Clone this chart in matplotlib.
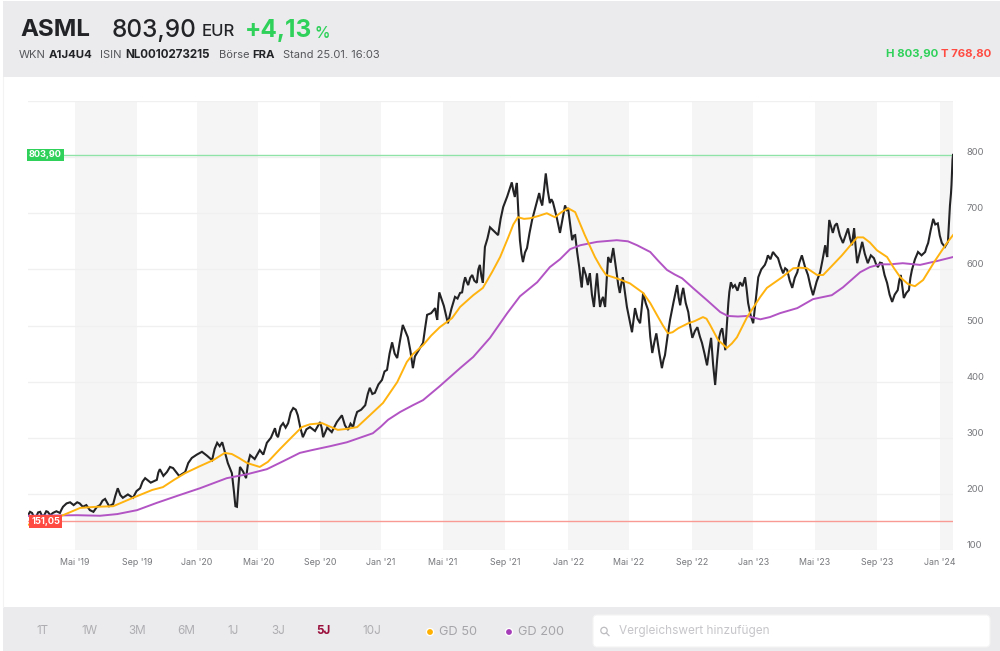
import numpy as np
import matplotlib
matplotlib.use('Agg')
import matplotlib.pyplot as plt
from matplotlib.patches import Rectangle, FancyBboxPatch, Circle

plt.rcParams['font.family'] = ['Inter', 'DejaVu Sans']

# (position along the time axis in days from the left edge, price in EUR)
price_points = [(0,162),(4,168),(8,166),(12,158),(16,159),(20,167),(24,168),(28,160),(32,162),(36,169),(39,168),(44,162),(49,166),(56,169),(63,166),(66,172),(69,177),(76,183),(83,185),(90,180),(97,185),(102,183),(108,177),(115,180),(122,171),(129,168),(136,177),(142,180),(147,188),(152,191),(160,178),(168,182),(172,196),(177,210),(182,198),(187,193),(197,199),(207,193),(214,205),(221,210),(226,222),(231,228),(242,220),(254,225),(257,238),(260,244),(267,232),(274,239),(280,248),(286,246),(298,232),(310,239),(316,255),(323,264),(333,270),(343,275),(353,268),(363,260),(368,280),(373,291),(378,285),(383,292),(389,272),(394,255),(398,246),(402,237),(406,205),(409,178),(412,177),(415,215),(418,248),(424,240),(430,228),(434,255),(438,269),(447,262),(457,278),(464,270),(471,291),(479,300),(487,317),(490,305),(493,301),(498,320),(503,326),(508,318),(513,326),(518,345),(523,353),(528,350),(532,340),(537,318),(542,301),(549,315),(556,319),(566,312),(576,328),(579,318),(582,301),(590,318),(599,310),(609,328),(619,340),(625,322),(631,314),(636,325),(641,319),(645,335),(649,346),(657,350),(665,358),(670,378),(674,389),(679,378),(684,380),(691,395),(698,403),(703,418),(708,421),(713,450),(718,470),(723,450),(728,442),(733,470),(739,501),(744,490),(749,479),(754,455),(759,424),(763,445),(767,451),(773,460),(779,469),(783,495),(787,519),(795,522),(803,531),(805,518),(807,510),(809,540),(811,559),(820,535),(828,504),(835,530),(842,551),(847,548),(852,558),(856,559),(859,575),(862,586),(865,578),(868,572),(872,585),(876,590),(880,580),(885,576),(888,600),(891,608),(894,588),(897,576),(899,610),(901,640),(906,655),(911,675),(919,668),(927,661),(932,690),(937,711),(945,730),(954,755),(957,740),(960,729),(962,745),(964,754),(967,700),(970,652),(973,628),(976,613),(980,630),(984,638),(989,665),(994,688),(1001,712),(1008,736),(1011,722),(1014,714),(1018,745),(1021,771),(1025,740),(1029,718),(1032,725),(1035,720),(1042,695),(1049,665),(1054,690),(1059,714),(1062,706),(1065,709),(1069,680),(1073,652),(1076,660),(1079,661),(1083,630),(1087,604),(1090,580),(1092,568),(1095,604),(1100,590),(1104,572),(1106,585),(1108,593),(1112,555),(1116,533),(1119,565),(1122,593),(1125,560),(1128,533),(1131,545),(1134,551),(1136,540),(1138,533),(1141,580),(1144,622),(1149,612),(1154,638),(1158,612),(1161,593),(1164,572),(1167,558),(1170,575),(1173,586),(1177,560),(1181,533),(1186,510),(1191,488),(1194,510),(1197,531),(1202,512),(1207,504),(1210,530),(1213,558),(1218,540),(1223,527),(1227,480),(1231,451),(1235,470),(1239,486),(1245,450),(1250,424),(1253,438),(1256,447),(1261,480),(1266,510),(1273,542),(1280,572),(1283,550),(1286,536),(1289,555),(1292,567),(1297,540),(1302,524),(1306,498),(1310,478),(1315,490),(1320,497),(1325,480),(1329,469),(1334,450),(1339,429),(1343,455),(1347,478),(1351,430),(1355,394),(1359,440),(1363,479),(1366,490),(1369,495),(1372,475),(1375,456),(1378,500),(1381,540),(1383,560),(1386,577),(1390,568),(1394,572),(1399,562),(1404,577),(1409,570),(1414,586),(1417,565),(1420,540),(1425,518),(1430,504),(1435,545),(1440,586),(1446,600),(1453,608),(1456,615),(1459,625),(1464,618),(1469,631),(1474,625),(1479,620),(1484,605),(1489,593),(1493,602),(1497,599),(1502,580),(1507,567),(1512,585),(1517,595),(1521,612),(1526,625),(1532,605),(1538,590),(1543,570),(1548,554),(1555,578),(1562,595),(1567,618),(1572,643),(1574,630),(1576,622),(1578,660),(1580,688),(1584,675),(1587,665),(1591,678),(1595,682),(1601,660),(1607,647),(1612,660),(1617,673),(1621,655),(1625,643),(1627,660),(1629,673),(1632,640),(1635,611),(1640,630),(1645,649),(1650,628),(1656,611),(1662,625),(1668,620),(1672,610),(1676,604),(1680,612),(1684,611),(1689,590),(1694,576),(1699,555),(1704,542),(1709,555),(1715,563),(1718,580),(1721,590),(1724,570),(1727,549),(1732,558),(1737,563),(1740,585),(1743,599),(1749,618),(1755,631),(1762,625),(1769,631),(1772,640),(1775,647),(1780,670),(1785,690),(1789,680),(1794,682),(1798,660),(1802,647),(1808,640),(1814,649),(1816,680),(1818,714),(1820,735),(1821,750),(1823,795),(1824,804)]

gd50_points = [(0,145),(35,152),(69,162),(103,175),(135,177),(168,178),(207,193),(245,207),(266,212),(288,225),(310,237),(338,249),(365,260),(388,273),(402,271),(416,264),(432,255),(457,248),(473,257),(497,280),(520,301),(540,319),(556,324),(580,326),(595,320),(611,314),(630,316),(649,319),(674,340),(700,362),(728,399),(747,435),(759,449),(779,465),(795,482),(812,497),(836,513),(852,533),(878,554),(897,567),(915,595),(931,622),(947,657),(957,680),(966,693),(978,690),(990,691),(1006,695),(1023,700),(1039,693),(1052,702),(1065,709),(1079,702),(1098,661),(1118,622),(1130,603),(1140,590),(1161,584),(1187,575),(1213,558),(1227,540),(1240,519),(1252,500),(1262,486),(1271,488),(1282,495),(1302,504),(1315,508),(1331,515),(1338,512),(1345,501),(1361,474),(1378,460),(1388,468),(1398,479),(1418,515),(1444,551),(1457,567),(1487,586),(1509,602),(1522,603),(1536,602),(1556,590),(1568,590),(1585,606),(1605,625),(1635,657),(1647,657),(1660,648),(1674,634),(1694,622),(1707,603),(1720,586),(1735,574),(1749,570),(1765,581),(1789,616),(1812,647),(1824,661)]

gd200_points = [(0,161),(97,162),(142,161),(176,164),(215,171),(254,184),(296,197),(339,210),(392,228),(432,235),(471,244),(505,259),(536,273),(560,278),(596,285),(629,292),(680,308),(696,320),(710,332),(734,346),(759,358),(779,367),(812,392),(852,424),(878,444),(911,478),(945,522),(970,552),(1004,577),(1029,604),(1049,618),(1069,636),(1089,643),(1122,649),(1161,652),(1183,650),(1201,643),(1227,631),(1243,615),(1260,599),(1275,591),(1290,584),(1311,567),(1339,545),(1365,524),(1380,517),(1400,516),(1418,517),(1444,511),(1463,515),(1483,522),(1517,531),(1548,547),(1585,554),(1607,568),(1641,595),(1660,604),(1680,609),(1700,609),(1725,611),(1759,608),(1793,615),(1824,622)]

price_day, price_val = map(list, zip(*price_points))
gd50_day, gd50_val = map(list, zip(*gd50_points))
gd200_day, gd200_val = map(list, zip(*gd200_points))

axis_days = 1824
y_ticks = [100, 200, 300, 400, 500, 600, 700, 800, 900]
y_labels = ['100', '200', '300', '400', '500', '600', '700', '800', '']
x_tick_days = [93, 215, 333, 454, 576, 696, 818, 941, 1065, 1185, 1309, 1430, 1552, 1674, 1798]
x_labels = ["Mai '19","Sep '19","Jan '20","Mai '20","Sep '20","Jan '21","Mai '21","Sep '21","Jan '22","Mai '22","Sep '22","Jan '23","Mai '23","Sep '23","Jan '24"]
high_value = 803.90
low_value = 151.05
periods = ['1T', '1W', '3M', '6M', '1J', '3J', '5J', '10J']
period_x = [42, 89, 137, 186, 233, 278, 323, 372]

W, H = 1000, 651
fig = plt.figure(figsize=(W/100, H/100), dpi=100, facecolor='white')

# page chrome in pixel coordinates
bg = fig.add_axes([0, 0, 1, 1], zorder=0)
bg.set_xlim(0, W); bg.set_ylim(H, 0); bg.axis('off')
GREY = '#EBEBED'
bg.add_patch(Rectangle((3, 1), 997, 76, fc=GREY, ec='none'))
bg.add_patch(Rectangle((3, 607), 997, 44, fc=GREY, ec='none'))
bg.plot([3, 3], [77, 607], color='#F3F3F4', lw=0.8)
bg.add_patch(FancyBboxPatch((593, 615), 397, 32, boxstyle='round,pad=0,rounding_size=4', fc='white', ec='#F4F4F5', lw=0.8))

DARK = '#222326'
MID = '#55565A'
GREEN = '#2FD15A'
RED = '#FF4B42'
bg.text(20, 30, 'ASML', fontsize=17.4, fontweight='bold', color=DARK, va='center')
bg.text(112, 30, '803,90', fontsize=17.5, fontweight='medium', color=DARK, va='center')
bg.text(202, 32, 'EUR', fontsize=12, fontweight='medium', color=DARK, va='center')
bg.text(245, 30, '+4,13', fontsize=17.5, fontweight='bold', color=GREEN, va='center')
bg.text(315, 33, '%', fontsize=11, fontweight='semibold', color=GREEN, va='center')
row = [(19, 'WKN', 'normal', 8), (49, 'A1J4U4', 'bold', 8.2), (100, 'ISIN', 'normal', 8), (125, 'NL0010273215', 'bold', 8.35),
       (219, 'Börse', 'normal', 8), (252, 'FRA', 'bold', 8.2), (283, 'Stand 25.01. 16:03', 'normal', 8)]
for x, s, w, fs in row:
    bg.text(x, 55, s, fontsize=fs, fontweight=w, color=MID if w == 'normal' else DARK, va='center')
bg.text(938, 54, 'H 803,90', fontsize=8.2, fontweight='bold', color=GREEN, va='center', ha='right')
bg.text(991, 54, 'T 768,80', fontsize=8.2, fontweight='bold', color=RED, va='center', ha='right')

for x, s in zip(period_x, periods):
    if s == '5J':
        bg.text(x, 631, s, fontsize=8.4, fontweight='bold', color='#9A0F3C', ha='center', va='center')
    else:
        bg.text(x, 631, s, fontsize=8.4, color='#AEAEB2', ha='center', va='center')

for cx, tx, col, s in [(430, 439, '#FFB000', 'GD 50'), (509, 518, '#A63DB8', 'GD 200')]:
    bg.add_patch(Circle((cx, 632), 4.2, fc='white', ec='none'))
    bg.add_patch(Circle((cx, 632), 2.9, fc=col, ec='none'))
    bg.text(tx, 632, s, fontsize=9.2, color='#A6A6AA', va='center')

bg.add_patch(Circle((604, 630.5), 3.2, fc='none', ec='#BDBDC1', lw=0.9))
bg.plot([606.4, 609], [633, 635.6], color='#BDBDC1', lw=0.9)
bg.text(619, 631, 'Vergleichswert hinzufügen', fontsize=8.5, color='#C6C6CA', va='center')

# chart
ax = fig.add_axes([28/W, 1 - 550/H, (953-28)/W, (550-101)/H], zorder=1)
ax.patch.set_alpha(0)

for i in range(0, len(x_tick_days), 2):
    right = x_tick_days[i+1] if i + 1 < len(x_tick_days) else axis_days
    ax.axvspan(x_tick_days[i], right, color='#F5F5F6', lw=0, zorder=0)
ax.set_xlim(0, axis_days)
ax.set_ylim(100, 900)

ax.set_yticks(y_ticks)
ax.set_yticklabels(y_labels)
ax.set_xticks(x_tick_days)
ax.set_xticklabels(x_labels)
ax.yaxis.tick_right()
ax.tick_params(axis='y', length=0, pad=9.5, labelsize=6.8, labelcolor='#77787C')
ax.tick_params(axis='x', length=0, pad=6, labelsize=6.4, labelcolor='#77787C')
for t in ax.get_yticklabels():
    t.set_va('bottom')
ax.grid(axis='y', color='#F0F0F1', lw=1, zorder=0.5)
ax.grid(axis='x', visible=False)
for s in ax.spines.values():
    s.set_visible(False)

ax.axhline(high_value, color='#8FE3A6', lw=1, zorder=1)
ax.axhline(low_value, color='#F99A94', lw=1, zorder=1)
ax.plot(price_day, price_val, color='#232325', lw=1.5, zorder=2, solid_joinstyle='miter')
ax.plot(gd200_day, gd200_val, color='#B254C4', lw=1.4, zorder=3, solid_joinstyle='round')
ax.plot(gd50_day, gd50_val, color='#FFB30F', lw=1.4, zorder=4, solid_joinstyle='round')

for val, col, s in [(high_value, GREEN, '803,90'), (low_value, RED, '151,05')]:
    ax.annotate(s, xy=(0, val), xycoords=('axes fraction', 'data'), xytext=(17.5, 0),
                textcoords='offset pixels', fontsize=6.6, fontweight='bold', color='white', ha='center', va='center', zorder=6,
                bbox=dict(boxstyle='square,pad=0.2', fc=col, ec='none'), annotation_clip=False)

fig.savefig('out.png', dpi=100)
